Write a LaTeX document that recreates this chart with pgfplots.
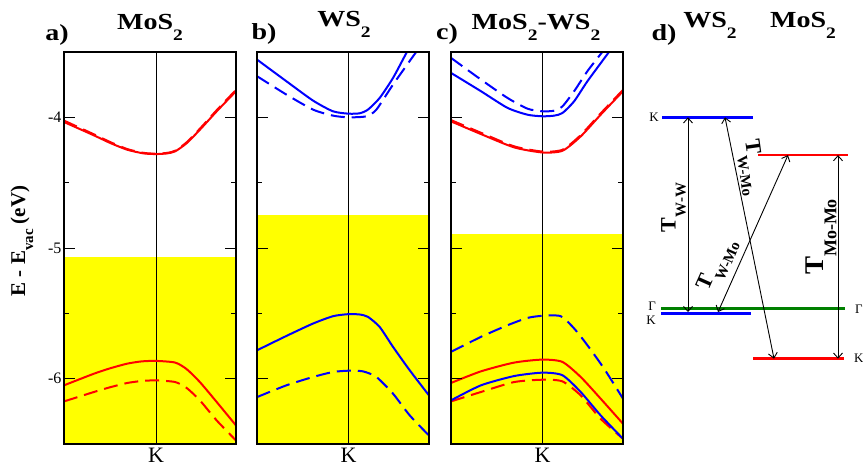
\documentclass[border=0pt]{standalone}
\usepackage{fontspec}
\setmainfont{Liberation Serif}
\usepackage{graphicx}
\usepackage{pgfplots}
\pgfplotsset{compat=1.18}
\usetikzlibrary{arrows.meta}

\definecolor{lvlgreen}{RGB}{0,128,0}
\definecolor{gapyellow}{RGB}{255,255,0}
\definecolor{bred}{RGB}{255,0,0}
\definecolor{bblue}{RGB}{0,0,255}

% lowered subscript: drop, size, text
\newcommand{\low}[3]{\raisebox{#1}{\fontsize{#2}{#2}\selectfont #3}}
\newcommand{\ttl}[1]{\scalebox{1.22}[1]{\fontsize{23}{23}\selectfont\bfseries #1}}
\newcommand{\Tl}[4]{{\fontsize{#1}{#1}\selectfont\bfseries T\low{#3}{#2}{#4}}}

\pgfplotsset{
  band/.style={
    scale only axis, width=172pt, height=392pt,
    xmin=0, xmax=1, ymin=-6.5, ymax=-3.5,
    anchor=south west, axis on top,
    axis line style={line width=1.2pt},
    ytick={-6,-5,-4}, minor ytick={-5.5,-4.5},
    major tick length=11pt, minor tick length=5pt,
    ytick style={black, line width=1pt},
    xtick style={draw=none},
    xticklabels={K},
    xticklabel style={font=\fontsize{22}{22}\selectfont, inner sep=0pt, yshift=-4pt},
    yticklabel style={font=\fontsize{16}{16}\selectfont, xshift=1pt},
  },
  sol/.style={line width=2pt, smooth, tension=0.4},
  dsh/.style={line width=2pt, smooth, tension=0.4, dash pattern=on 14pt off 7pt},
  kline/.style={black, line width=0.8pt},
}

\begin{document}
\begin{tikzpicture}
\useasboundingbox (0,0) rectangle (863pt,-468pt);

% ---------------- a) MoS2
\begin{axis}[band, at={(64pt,-444pt)}, xtick={0.535}, yticklabels={-6,-5,-4}]
\addplot[fill=gapyellow, draw=none] coordinates {(0,-6.5) (1,-6.5) (1,-5.072) (0,-5.072)} -- cycle;
\addplot[kline] coordinates {(0.535,-6.5) (0.535,-3.5)};
\addplot[sol, bred] coordinates {(0,-4.036) (0.174,-4.138) (0.27,-4.197) (0.368,-4.248) (0.463,-4.276) (0.535,-4.281) (0.6,-4.276) (0.647,-4.26) (0.714,-4.197) (0.79,-4.095) (0.888,-3.954) (1,-3.80)};
\addplot[dsh, bred] coordinates {(0,-4.025) (0.174,-4.13) (0.27,-4.19) (0.368,-4.243) (0.463,-4.272) (0.535,-4.278) (0.6,-4.272) (0.647,-4.255) (0.714,-4.19) (0.79,-4.087) (0.888,-3.945) (1,-3.79)};
\addplot[sol, bred] coordinates {(0,-6.051) (0.174,-5.962) (0.27,-5.92) (0.368,-5.885) (0.45,-5.868) (0.535,-5.864) (0.647,-5.877) (0.714,-5.928) (0.79,-6.026) (0.888,-6.179) (1,-6.358)};
\addplot[dsh, bred] coordinates {(0,-6.174) (0.174,-6.102) (0.27,-6.065) (0.368,-6.033) (0.45,-6.018) (0.535,-6.013) (0.647,-6.026) (0.714,-6.072) (0.79,-6.166) (0.888,-6.32) (1,-6.473)};
\end{axis}

% ---------------- b) WS2
\begin{axis}[band, at={(257pt,-444pt)}, xtick={0.533}, yticklabels={,,}]
\addplot[fill=gapyellow, draw=none] coordinates {(0,-6.5) (1,-6.5) (1,-4.747) (0,-4.747)} -- cycle;
\addplot[kline] coordinates {(0.533,-6.5) (0.533,-3.5)};
\addplot[sol, bblue] coordinates {(0,-3.558) (0.171,-3.724) (0.326,-3.872) (0.442,-3.954) (0.533,-3.972) (0.597,-3.969) (0.645,-3.941) (0.713,-3.852) (0.791,-3.698) (0.872,-3.499) (1,-3.19)};
\addplot[dsh, bblue] coordinates {(0,-3.685) (0.171,-3.826) (0.326,-3.941) (0.442,-3.987) (0.533,-4.0) (0.636,-3.992) (0.694,-3.941) (0.791,-3.749) (0.926,-3.499) (1,-3.37)};
\addplot[sol, bblue] coordinates {(0,-5.783) (0.171,-5.673) (0.326,-5.578) (0.442,-5.522) (0.533,-5.506) (0.597,-5.509) (0.645,-5.527) (0.713,-5.604) (0.791,-5.757) (0.888,-5.936) (1,-6.128)};
\addplot[dsh, bblue] coordinates {(0,-6.141) (0.171,-6.051) (0.326,-5.987) (0.442,-5.949) (0.533,-5.939) (0.616,-5.944) (0.694,-5.987) (0.791,-6.115) (0.888,-6.281) (1,-6.435)};
\end{axis}

% ---------------- c) MoS2-WS2
\begin{axis}[band, at={(451pt,-444pt)}, xtick={0.532}, yticklabels={,,}]
\addplot[fill=gapyellow, draw=none] coordinates {(0,-6.5) (1,-6.5) (1,-4.893) (0,-4.893)} -- cycle;
\addplot[kline] coordinates {(0.532,-6.5) (0.532,-3.5)};
\addplot[sol, bblue] coordinates {(0,-3.66) (0.174,-3.80) (0.329,-3.928) (0.445,-3.98) (0.532,-3.992) (0.6,-3.987) (0.648,-3.967) (0.716,-3.877) (0.793,-3.724) (0.919,-3.499) (1,-3.353)};
\addplot[dsh, bblue] coordinates {(0,-3.545) (0.174,-3.711) (0.329,-3.852) (0.445,-3.934) (0.532,-3.954) (0.6,-3.949) (0.648,-3.916) (0.716,-3.80) (0.793,-3.647) (0.88,-3.499) (1,-3.294)};
\addplot[sol, bred] coordinates {(0,-4.031) (0.174,-4.128) (0.367,-4.23) (0.532,-4.269) (0.648,-4.256) (0.754,-4.146) (0.87,-3.98) (1,-3.80)};
\addplot[dsh, bred] coordinates {(0,-4.021) (0.174,-4.118) (0.367,-4.222) (0.532,-4.262) (0.648,-4.248) (0.754,-4.136) (0.87,-3.97) (1,-3.79)};
\addplot[dsh, bblue] coordinates {(0,-5.795) (0.174,-5.68) (0.329,-5.591) (0.445,-5.535) (0.532,-5.519) (0.638,-5.522) (0.716,-5.616) (0.793,-5.744) (0.89,-5.923) (1,-6.153)};
\addplot[sol, bred] coordinates {(0,-6.033) (0.174,-5.944) (0.367,-5.877) (0.532,-5.854) (0.648,-5.872) (0.754,-5.987) (0.87,-6.153) (1,-6.345)};
\addplot[dsh, bred] coordinates {(0,-6.174) (0.174,-6.102) (0.367,-6.026) (0.532,-6.008) (0.648,-6.021) (0.754,-6.128) (0.87,-6.307) (1,-6.46)};
\addplot[sol, bblue] coordinates {(0,-6.166) (0.174,-6.051) (0.367,-5.98) (0.532,-5.954) (0.648,-5.974) (0.754,-6.102) (0.87,-6.281) (1,-6.46)};
\end{axis}

% ---------------- d) level diagram
\begin{axis}[scale only axis, width=233pt, height=392pt, at={(630pt,-444pt)}, anchor=south west,
  xmin=630, xmax=863, ymin=-6.5, ymax=-3.5, hide axis, clip=false]
\addplot[bblue, line width=2.5pt] coordinates {(662,-4.0) (753,-4.0)};
\addplot[bred, line width=2.5pt] coordinates {(758,-4.289) (848,-4.289)};
\addplot[lvlgreen, line width=2.5pt] coordinates {(661,-5.463) (845,-5.463)};
\addplot[bblue, line width=2.5pt] coordinates {(661,-5.501) (751,-5.501)};
\addplot[bred, line width=2.5pt] coordinates {(753,-5.847) (844,-5.847)};
\addplot[black, line width=0.9pt, {Straight Barb[length=5pt,width=9pt]}-{Straight Barb[length=5pt,width=9pt]}] coordinates {(688,-4.0) (688,-5.49)};
\addplot[black, line width=0.9pt, {Straight Barb[length=5pt,width=9pt]}-{Straight Barb[length=5pt,width=9pt]}] coordinates {(838,-4.289) (838,-5.847)};
\addplot[black, line width=0.9pt, {Straight Barb[length=5pt,width=9pt]}-{Straight Barb[length=5pt,width=9pt]}] coordinates {(725,-4.0) (774,-5.847)};
\addplot[black, line width=0.9pt, {Straight Barb[length=5pt,width=9pt]}-{Straight Barb[length=5pt,width=9pt]}] coordinates {(788,-4.289) (718,-5.49)};
\end{axis}

% ---------------- texts
\node[anchor=base, inner sep=0pt] at (57pt,-41pt) {\ttl{a)}};
\node[anchor=base, inner sep=0pt] at (150pt,-30pt) {\ttl{MoS\low{-11pt}{16}{2}}};
\node[anchor=base, inner sep=0pt] at (264pt,-39.5pt) {\ttl{b)}};
\node[anchor=base, inner sep=0pt] at (344pt,-27pt) {\ttl{WS\low{-11pt}{16}{2}}};
\node[anchor=base, inner sep=0pt] at (447pt,-40pt) {\ttl{c)}};
\node[anchor=base, inner sep=0pt] at (536pt,-30pt) {\ttl{MoS\low{-11pt}{16}{2}-WS\low{-11pt}{16}{2}}};
\node[anchor=base, inner sep=0pt] at (664pt,-41pt) {\ttl{d)}};
\node[anchor=base, inner sep=0pt] at (710pt,-28pt) {\ttl{WS\low{-11pt}{16}{2}}};
\node[anchor=base, inner sep=0pt] at (803pt,-28pt) {\ttl{MoS\low{-11pt}{16}{2}}};

\node[rotate=90, inner sep=0pt] at (22pt,-241pt) {\fontsize{21}{21}\selectfont\bfseries E - E\low{-8pt}{15}{vac} (eV)};

\node[anchor=east, inner sep=0pt] at (659pt,-117pt) {\fontsize{13}{13}\selectfont K};
\node[anchor=east, inner sep=0pt] at (656pt,-306pt) {\fontsize{13}{13}\selectfont Γ};
\node[anchor=east, inner sep=0pt] at (656pt,-320pt) {\fontsize{13}{13}\selectfont K};
\node[anchor=west, inner sep=0pt] at (855pt,-309pt) {\fontsize{13}{13}\selectfont Γ};
\node[anchor=west, inner sep=0pt] at (854pt,-358pt) {\fontsize{13}{13}\selectfont K};

\node[rotate=90, inner sep=0pt] at (673.5pt,-207.5pt) {\Tl{22}{15}{-10pt}{W-W}};
\node[rotate=90, inner sep=0pt] at (821pt,-237pt) {\Tl{27}{18}{-13pt}{Mo-Mo}};
\node[rotate=66, inner sep=0pt] at (718pt,-265pt) {\Tl{22}{15}{-10pt}{W-Mo}};
\node[rotate=-82, inner sep=0pt] at (751pt,-168pt) {\Tl{22}{15}{-10pt}{W-Mo}};
\end{tikzpicture}
\end{document}
